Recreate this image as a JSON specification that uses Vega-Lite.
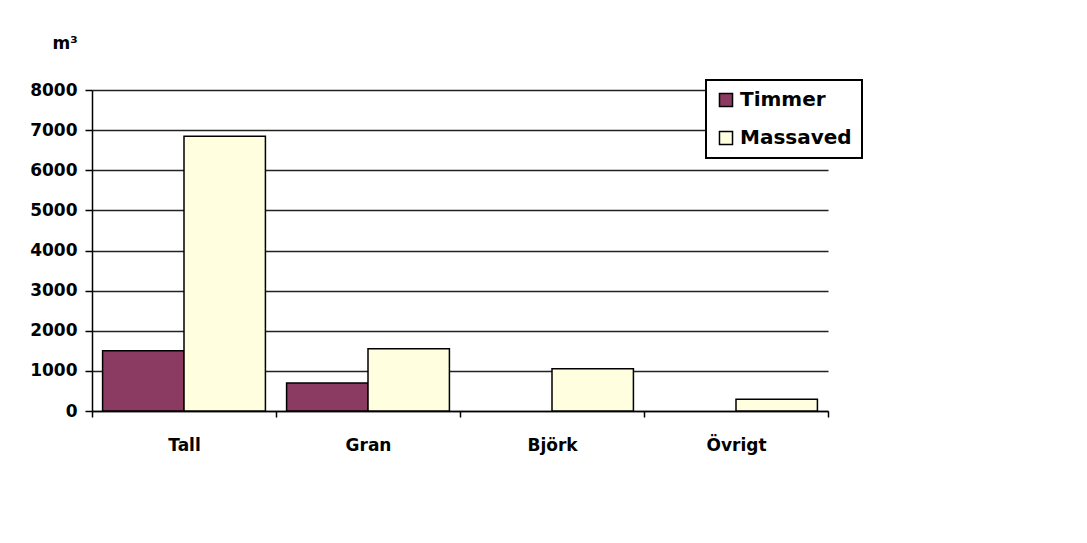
{
  "$schema": "https://vega.github.io/schema/vega-lite/v6.json",
  "autosize": {"type": "none"},
  "padding": {"left": 92, "top": 90, "right": 259, "bottom": 132},
  "width": 736,
  "height": 321,
  "background": "white",
  "config": {"view": {"stroke": null}, "font": "DejaVu Sans", "legend": {"strokeWidth": 2}},
  "data": {
    "values": [
      {"art": "Tall", "typ": "Timmer", "volym": 1500},
      {"art": "Tall", "typ": "Massaved", "volym": 6850},
      {"art": "Gran", "typ": "Timmer", "volym": 700},
      {"art": "Gran", "typ": "Massaved", "volym": 1550},
      {"art": "Björk", "typ": "Timmer", "volym": 0},
      {"art": "Björk", "typ": "Massaved", "volym": 1050},
      {"art": "Övrigt", "typ": "Timmer", "volym": 0},
      {"art": "Övrigt", "typ": "Massaved", "volym": 290}
    ]
  },
  "mark": {"type": "bar", "stroke": "black"},
  "encoding": {
    "x": {
      "field": "art",
      "type": "nominal",
      "sort": ["Tall", "Gran", "Björk", "Övrigt"],
      "scale": {"paddingInner": 0, "paddingOuter": 0},
      "axis": {
        "title": null,
        "labelAngle": 0,
        "labelFont": "DejaVu Sans",
        "labelFontWeight": "bold",
        "labelFontSize": 17,
        "labelColor": "black",
        "labelPadding": 20,
        "tickBand": "extent",
        "tickColor": "black",
        "tickSize": 6,
        "tickWidth": 1.5,
        "domainColor": "black",
        "domainWidth": 1.5
      }
    },
    "xOffset": {
      "field": "typ",
      "type": "nominal",
      "sort": ["Timmer", "Massaved"],
      "scale": {"paddingOuter": 0.13, "paddingInner": 0}
    },
    "y": {
      "field": "volym",
      "type": "quantitative",
      "scale": {"domain": [0, 8000]},
      "axis": {
        "values": [0, 1000, 2000, 3000, 4000, 5000, 6000, 7000, 8000],
        "format": "d",
        "title": "m³",
        "titleAngle": 0,
        "titleAlign": "left",
        "titleBaseline": "alphabetic",
        "titleX": -40,
        "titleY": -42,
        "titleFont": "DejaVu Sans",
        "titleFontSize": 17,
        "titleFontWeight": "bold",
        "titleColor": "black",
        "labelFont": "DejaVu Sans",
        "labelFontWeight": "bold",
        "labelFontSize": 17,
        "labelColor": "black",
        "labelPadding": 8,
        "tickColor": "black",
        "tickSize": 7,
        "tickWidth": 1.5,
        "domainColor": "black",
        "domainWidth": 1.5,
        "grid": true,
        "gridColor": "#222222",
        "gridWidth": 1.5
      }
    },
    "strokeWidth": {
      "condition": {"test": "datum.volym > 0", "value": 1.5},
      "value": 0
    },
    "color": {
      "field": "typ",
      "type": "nominal",
      "sort": ["Timmer", "Massaved"],
      "scale": {"domain": ["Timmer", "Massaved"], "range": ["#8B3A62", "#FFFFE0"]},
      "legend": {
        "title": null,
        "orient": "none",
        "legendX": 614,
        "legendY": -10,
        "strokeColor": "black",
        "fillColor": "white",
        "padding": 10,
        "symbolType": "square",
        "symbolSize": 170,
        "symbolStrokeColor": "black",
        "symbolStrokeWidth": 1.5,
        "symbolOpacity": 1,
        "labelFont": "DejaVu Sans",
        "labelFontSize": 20,
        "labelFontWeight": "bold",
        "labelColor": "black",
        "labelOffset": 4,
        "rowPadding": 18
      }
    }
  }
}
